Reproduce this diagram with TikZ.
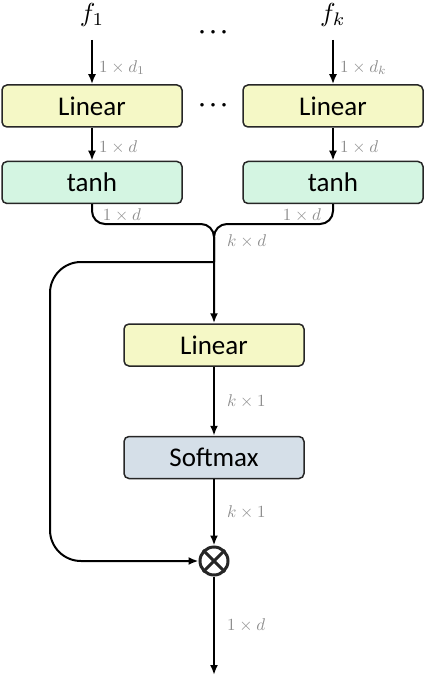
\documentclass[tikz,border=0pt]{standalone}
\usepackage{amsmath}
\usepackage{graphicx}
\usepackage{fontspec}
\setmainfont{Carlito}
\usetikzlibrary{arrows.meta,positioning}
\definecolor{linfill}{HTML}{F5F8C6}
\definecolor{tanhfill}{HTML}{D4F5E2}
\definecolor{smfill}{HTML}{D5DFE8}
\definecolor{dimgray}{HTML}{8E8E8E}
\newcommand{\dimlab}[1]{\scalebox{1.7}{$#1$}}
\newcommand{\featlab}[1]{\scalebox{2.6}{$#1$}}
\newcommand{\bigdots}{\scalebox{0.9}{$\bullet\mkern9mu\bullet\mkern9mu\bullet$}}

\begin{document}
\begin{tikzpicture}[
  x=1pt, y=-1pt,
  node distance=33pt,
  box/.style={rectangle, rounded corners=5pt, draw=black!85, line width=1.5pt, minimum width=180pt, minimum height=42pt, font=\fontsize{27}{31}\selectfont},
  arr/.style={-{Latex[length=10pt,width=8pt]}, line width=2pt},
  wire/.style={line width=2pt},
  lab/.style={text=dimgray, inner sep=0pt},
  feat/.style={inner sep=0pt}]
\useasboundingbox (0,0) rectangle (426,676);
% inputs
\node[feat] (f1) at (92,15) {\featlab{f_1}};
\node[feat] (fk) at (333,15) {\featlab{f_k}};
\node[feat] (dtop) at (213,33) {\bigdots};
% per-feature branches
\node[box, fill=linfill] (l1) at (92,106) {Linear};
\node[box, fill=linfill] (lk) at (333,106) {Linear};
\node[feat] (dmid) at (213,106) {\bigdots};
\node[box, fill=tanhfill, below=of l1] (t1) {tanh};
\node[box, fill=tanhfill, below=of lk] (tk) {tanh};
% attention
\node[box, fill=linfill] (la) at (214,345) {Linear};
\node[box, fill=smfill, below=69pt of la] (sm) {Softmax};
\node[circle, draw=black!85, line width=3pt, minimum size=28pt, inner sep=0pt] (mul) at (214,561) {};
\draw[line width=3pt, black!85] (mul.north east) -- (mul.south west) (mul.north west) -- (mul.south east);
\coordinate (merge) at (214,224);
\coordinate (split) at (214,262);
\coordinate (skip) at (50,561);
\coordinate (out) at (214,675);

\draw[arr] (92,40) -- node[lab, right=6pt, pos=0.62] {\dimlab{1\times d_1}} (l1.north);
\draw[arr] (333,40) -- node[lab, right=6pt, pos=0.62] {\dimlab{1\times d_k}} (lk.north);
\draw[arr] (l1) -- node[lab, right=6pt, pos=0.6] {\dimlab{1\times d}} (t1);
\draw[arr] (lk) -- node[lab, right=6pt, pos=0.6] {\dimlab{1\times d}} (tk);
\draw[arr, rounded corners=13pt] (t1.south) |- (merge) -- (la.north);
\draw[wire, rounded corners=13pt] (tk.south) |- (merge) -- (split);
\node[lab] at (122,215) {\dimlab{1\times d}};
\node[lab] at (302,215) {\dimlab{1\times d}};
\node[lab, anchor=west] at (227,241) {\dimlab{k\times d}};
\draw[arr, rounded corners=31pt] (split) -| (skip) -- (mul.west);
\draw[arr] (la) -- node[lab, right=12pt] {\dimlab{k\times 1}} (sm);
\draw[arr] (sm) -- node[lab, right=12pt] {\dimlab{k\times 1}} (mul);
\draw[arr] (mul) -- node[lab, right=12pt] {\dimlab{1\times d}} (out);
\end{tikzpicture}
\end{document}
